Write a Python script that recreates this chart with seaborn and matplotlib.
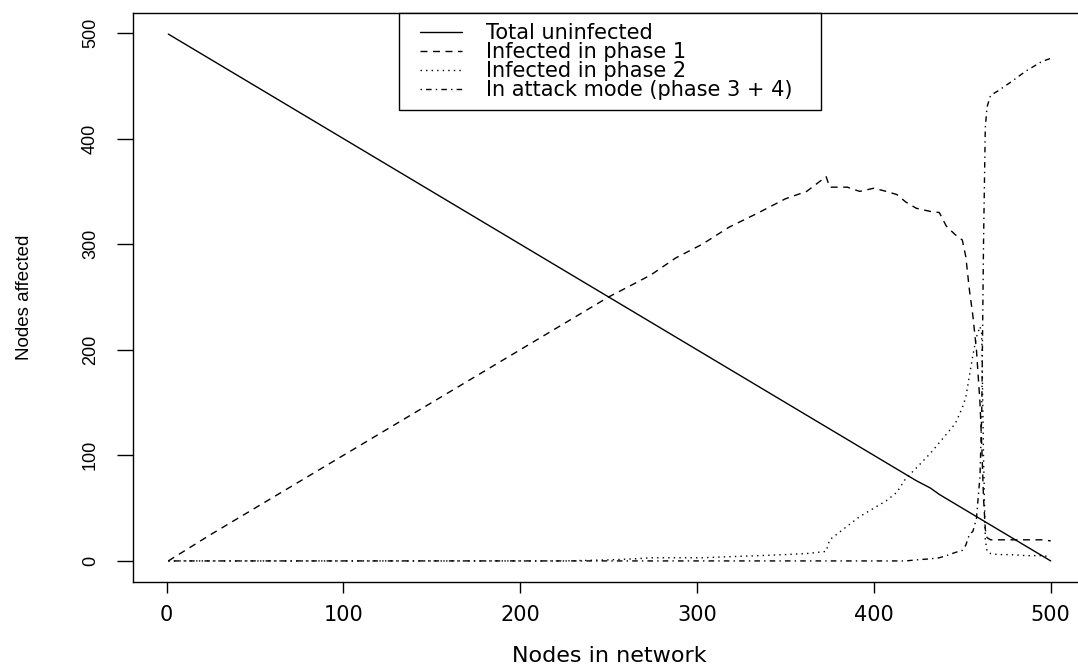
import numpy as np
import pandas as pd
import seaborn as sns
import matplotlib.pyplot as plt
from matplotlib.lines import Line2D
from matplotlib.legend_handler import HandlerLine2D

# values
nodes = [1, 25, 50, 75, 100, 125, 150, 175, 200, 225,
         250, 265, 274, 288, 303, 318, 335, 350, 362, 373,
         375, 385, 392, 400, 407, 413, 418, 424, 432, 437,
         441, 446, 450, 452, 454, 456, 458, 460, 461, 462,
         463, 464, 466, 470, 477, 486, 495, 500]
uninfected = [499, 475, 450, 425, 400, 375, 350, 325, 300, 275,
              250, 235, 226, 212, 197, 182, 165, 150, 138, 127,
              125, 115, 108, 100, 93, 87, 82, 76, 69, 63,
              59, 54, 50, 48, 46, 44, 42, 40, 39, 38,
              37, 36, 34, 30, 23, 14, 5, 0]
phase1 = [0, 25, 50, 75, 100, 125, 150, 175, 200, 225,
          250, 263, 271, 287, 300, 316, 330, 343, 350, 364,
          354, 354, 350, 353, 350, 347, 340, 334, 331, 330,
          317, 309, 304, 288, 257, 232, 200, 150, 110, 60,
          30, 22, 20, 20, 20, 20, 20, 19]
phase2 = [0, 0, 0, 0, 0, 0, 0, 0, 0, 0,
          1, 2, 3, 3, 3, 4, 5, 6, 7, 9,
          20, 33, 42, 50, 57, 65, 78, 88, 102, 112,
          120, 130, 145, 155, 175, 195, 212, 222, 215, 100,
          20, 9, 7, 6, 6, 5, 5, 4]
attack = [0, 0, 0, 0, 0, 0, 0, 0, 0, 0,
          0, 0, 0, 0, 0, 0, 0, 0, 0, 0,
          0, 0, 0, 0, 0, 0, 0, 1, 2, 3,
          5, 8, 10, 15, 25, 28, 40, 80, 140, 300,
          410, 430, 441, 445, 453, 464, 473, 476]

labels = ['Total uninfected', 'Infected in phase 1',
          'Infected in phase 2', 'In attack mode (phase 3 + 4)']
styles = ['-', (0, (5, 4)), (0, (1, 3)), (0, (1, 3, 4, 3))]

sns.set_style('ticks')
plt.rcParams['font.family'] = ['DejaVu Sans']
plt.rcParams.update({'axes.edgecolor': 'black', 'text.color': 'black',
                     'axes.labelcolor': 'black', 'xtick.color': 'black',
                     'ytick.color': 'black'})
side_font = ['Liberation Sans', 'DejaVu Sans']

fig = plt.figure(figsize=(10.78, 6.66), dpi=100)
ax = fig.add_axes([133 / 1078, 84 / 666, 953 / 1078, 569 / 666])

for vals, lab, ls in zip([uninfected, phase1, phase2, attack], labels, styles):
    sns.lineplot(x=nodes, y=vals, ax=ax, color='black', linewidth=1.0,
                 linestyle=ls, label=lab, legend=False)

ax.set_xlim(-18.96, 519.96)
ax.set_ylim(-19.96, 518.96)
ax.set_xticks(range(0, 501, 100))
ax.set_yticks(range(0, 501, 100))
ax.tick_params(axis='x', length=7.9, width=1, pad=9, labelsize=15)
ax.tick_params(axis='y', length=11.5, width=1, pad=13, labelsize=13,
               labelrotation=90)
for t in ax.get_yticklabels():
    t.set_family(side_font)
    t.set_va('center')
for s in ax.spines.values():
    s.set_linewidth(1.0)

ax.set_xlabel('Nodes in network', fontsize=16, labelpad=15)
ax.set_ylabel('Nodes affected', fontsize=13.5, family=side_font, labelpad=35)

handles, labs = ax.get_legend_handles_labels()
leg = ax.legend(handles, labs, loc='upper left',
                bbox_to_anchor=(399 / 1078, 1 - 13 / 666, 422 / 1078, 0),
                bbox_transform=fig.transFigure, mode='expand', fontsize=15,
                frameon=True, fancybox=False, edgecolor='black', framealpha=1,
                borderpad=0.48, labelspacing=-0.047, handlelength=2.55,
                handletextpad=1.15, borderaxespad=0,
                handler_map={Line2D: HandlerLine2D(xpad=0.53)})
leg.get_frame().set_linewidth(1.0)

fig.savefig('out.png', dpi=100)
